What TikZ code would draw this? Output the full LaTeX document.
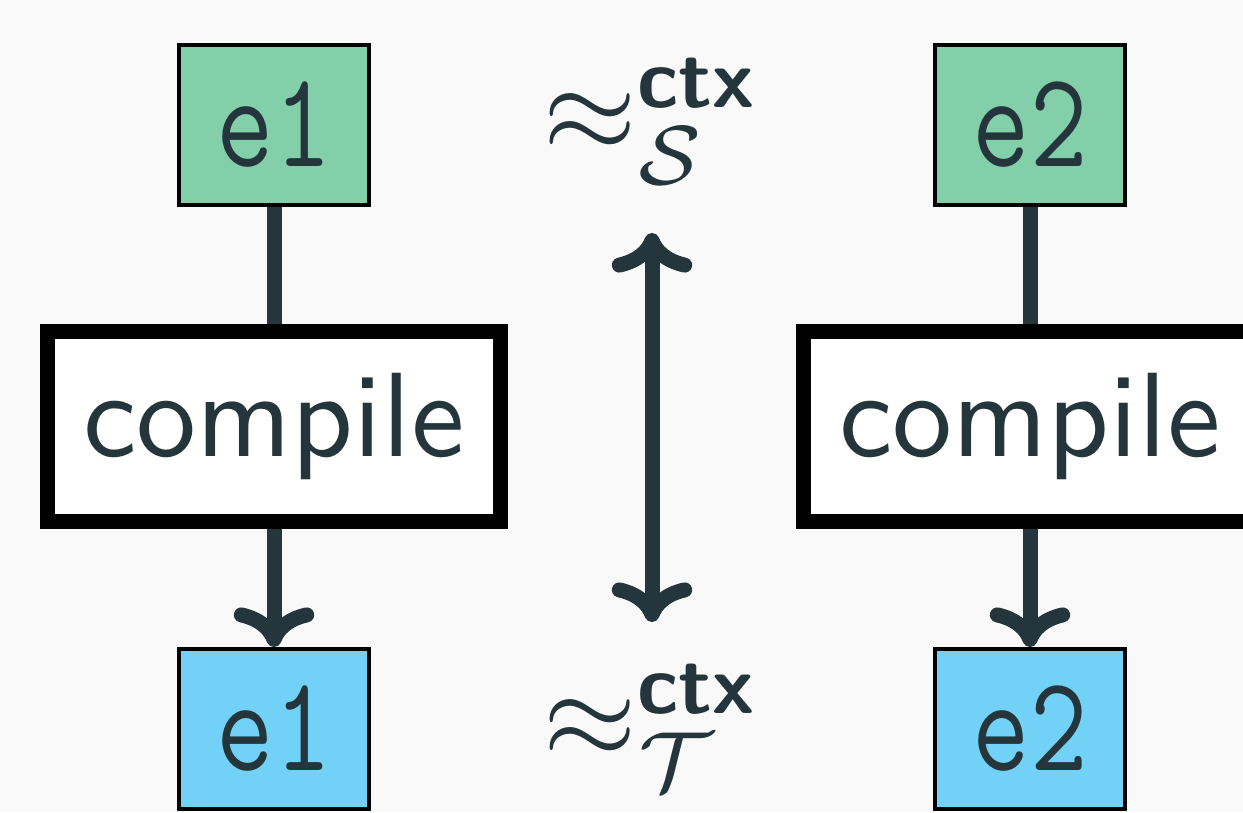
\documentclass[tikz,border=0pt]{standalone}
\usepackage{amsmath}
\usepackage{graphicx}
\usetikzlibrary{arrows.meta}

\definecolor{ink}{HTML}{24363B}
\definecolor{srcgreen}{HTML}{82CFAA}
\definecolor{tgtblue}{HTML}{72D1F7}
\definecolor{paper}{HTML}{F9F9F9}

\newcommand\termfont{\fontsize{11.33}{13}\selectfont\ttfamily}
\newcommand\passfont{\normalsize\sffamily}
\newcommand\termtext[1]{\scalebox{0.82}[1]{#1}}

\tikzset{
  term/.style={draw=black, line width=0.333pt, minimum width=15.833pt, minimum height=13.333pt,
    inner sep=0pt, text=ink, font=\termfont},
  srcterm/.style={term, fill=srcgreen},
  tgtterm/.style={term, fill=tgtblue},
  pass/.style={draw=black, fill=white, line width=1.25pt, minimum width=37.75pt,
    minimum height=15.833pt, inner sep=0pt, text=ink, font=\passfont},
  link/.style={draw=ink, line width=1.25pt},
  cmtip/.tip={Computer Modern Rightarrow[length=3.3pt, width=6.7pt]},
  flow/.style={link, -cmtip},
  relation/.style={text=ink, font=\passfont, inner sep=0pt, anchor=base},
}

\begin{document}
\begin{tikzpicture}[x=0.0833333pt, y=-0.0833333pt]
  \useasboundingbox (0,0) rectangle (1243,812);
  \fill[paper] (0,0) rectangle (1243,812);
  \clip (0,0) rectangle (1243,812);

  % left column: e1 compiled
  \node[srcterm] (e1s) at (274,125) {\termtext{e1}};
  \node[pass]    (c1)  at (274,426.5) {compile};
  \node[tgtterm] (e1t) at (274,729) {\termtext{e1}};

  % right column: e2 compiled
  \node[srcterm] (e2s) at (1030,125) {\termtext{e2}};
  \node[pass]    (c2)  at (1030,426.5) {compile};
  \node[tgtterm] (e2t) at (1030,729) {\termtext{e2}};

  % contextual equivalences
  \node[relation] (eqs) at (652,151) {$\approx^{\text{\sffamily\bfseries ctx}}_{\mathcal{S}}$};
  \node[relation] (eqt) at (652,757) {$\approx^{\text{\sffamily\bfseries ctx}}_{\mathcal{T}}$};
  \coordinate (top) at (652,233);
  \coordinate (bot) at (652,622);

  % connectors
  \draw[link] (e1s.south) -- (c1.north);
  \draw[flow] (c1.south) -- (e1t.north);
  \draw[link] (e2s.south) -- (c2.north);
  \draw[flow] (c2.south) -- (e2t.north);
  \draw[link, cmtip-cmtip] (top) -- (bot);
\end{tikzpicture}
\end{document}
